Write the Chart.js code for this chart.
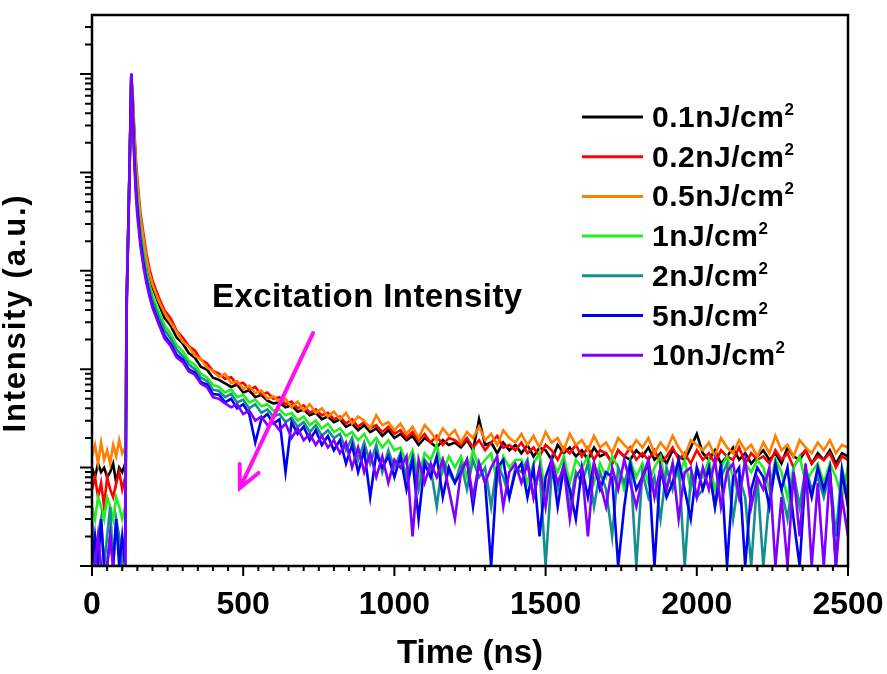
<!DOCTYPE html>
<html>
<head>
<meta charset="utf-8">
<script src="https://cdn.jsdelivr.net/npm/chart.js@4.4.1/dist/chart.umd.min.js"></script>
<style>
  html, body { margin: 0; padding: 0; background: #fff; }
</style>
</head>
<body>
<canvas id="myChart" width="887" height="674"></canvas>
<script>
// time axis (ns), shared by all curves
const times = [
  0, 10, 20, 30, 40, 50, 60, 70, 80, 90, 100,
  110, 115, 120, 125, 130, 135, 140, 145, 150, 160, 170, 180, 190, 200,
  220, 240, 260, 280, 300, 320, 340, 360, 380, 400,
  420, 440, 460, 480, 500, 520, 540, 560, 580, 600,
  620, 640, 660, 680, 700, 720, 740, 760, 780, 800,
  820, 840, 860, 880, 900, 920, 940, 960, 980, 1000,
  1020, 1040, 1060, 1080, 1100, 1120, 1140, 1160, 1180, 1200,
  1220, 1240, 1260, 1280, 1300, 1320, 1340, 1360, 1380, 1400,
  1420, 1440, 1460, 1480, 1500, 1520, 1540, 1560, 1580, 1600,
  1620, 1640, 1660, 1680, 1700, 1720, 1740, 1760, 1780, 1800,
  1820, 1840, 1860, 1880, 1900, 1920, 1940, 1960, 1980, 2000,
  2020, 2040, 2060, 2080, 2100, 2120, 2140, 2160, 2180, 2200,
  2220, 2240, 2260, 2280, 2300, 2320, 2340, 2360, 2380, 2400,
  2420, 2440, 2460, 2480, 2500
];

const labels = ['0.1nJ/cm²', '0.2nJ/cm²', '0.5nJ/cm²', '1nJ/cm²', '2nJ/cm²', '5nJ/cm²', '10nJ/cm²'];
const colors = ['#000000', '#ff0000', '#ff8000', '#22ee22', '#148f8f', '#0000f0', '#8000ff'];

const xTicks = [0, 500, 1000, 1500, 2000, 2500];

// counts (a.u.)
const int01 = [
  10, 8, 11, 9, 10, 8, 9, 11, 7, 10, 9,
  11, 610, 2850, 15500, 100000, 50000, 22000, 11500, 7000, 3300, 2000, 1250, 880, 680,
  470, 330, 278, 210, 182, 146, 131, 106, 99, 82,
  78, 72, 66, 70, 58, 61, 52, 55, 48, 45,
  46, 41, 43, 37, 39, 34, 36, 31, 33, 29,
  31, 26, 28, 24, 27, 23, 25, 21, 24, 20,
  22, 19, 21, 17, 20, 18, 16, 19, 17, 18,
  16, 19, 15, 31, 17, 18, 14, 18, 15, 17,
  14, 17, 13, 16, 15, 12, 17, 14, 16, 13,
  15, 12, 16, 13, 14, 11, 15, 13, 12, 15,
  13, 16, 12, 14, 11, 15, 13, 12, 16, 22,
  14, 12, 15, 11, 13, 16, 12, 14, 11, 13,
  15, 12, 14, 11, 16, 13, 12, 15, 11, 14,
  12, 15, 11, 14, 13
];
const int02 = [
  6, 8, 5, 7, 4, 8, 6, 5, 7, 9, 6,
  8, 600, 2800, 15000, 100000, 58000, 27000, 14000, 8500, 3900, 2400, 1500, 1050, 800,
  545, 395, 330, 245, 210, 172, 155, 125, 115, 96,
  90, 80, 83, 70, 73, 62, 66, 55, 58, 50,
  52, 44, 47, 40, 43, 36, 39, 34, 36, 31,
  33, 28, 31, 26, 29, 25, 27, 23, 26, 22,
  24, 20, 23, 19, 22, 18, 21, 17, 20, 19,
  17, 20, 16, 19, 15, 18, 21, 16, 17, 15,
  18, 14, 16, 13, 17, 15, 12, 16, 14, 17,
  13, 16, 12, 15, 14, 11, 15, 13, 16, 12,
  14, 12, 15, 11, 13, 16, 12, 14, 11, 15,
  12, 14, 11, 15, 13, 12, 16, 11, 14, 12,
  13, 11, 15, 12, 14, 10, 13, 15, 11, 13,
  12, 14, 10, 13, 12
];
const int05 = [
  13, 17, 11, 18, 12, 15, 11, 17, 13, 19, 14,
  16, 620, 2900, 16000, 98000, 52000, 24000, 12500, 7600, 3500, 2150, 1350, 950, 730,
  500, 372, 298, 240, 190, 170, 138, 126, 104, 95,
  84, 90, 72, 76, 63, 68, 57, 61, 50, 53,
  46, 50, 41, 47, 38, 44, 36, 40, 33, 37,
  31, 36, 28, 33, 30, 25, 34, 27, 29, 24,
  28, 22, 26, 20, 27, 23, 19, 25, 21, 24,
  18, 23, 20, 26, 19, 22, 17, 24, 20, 18,
  22, 17, 21, 16, 23, 18, 20, 15, 22, 17,
  19, 15, 21, 16, 18, 14, 20, 17, 15, 19,
  16, 20, 14, 18, 15, 21, 16, 13, 19, 17,
  15, 18, 13, 20, 16, 14, 19, 15, 17, 13,
  18, 14, 21, 15, 17, 13, 19, 16, 14, 18,
  15, 19, 14, 17, 16
];
const int1 = [
  4, 3, 5, 4, 3, 5, 4, 3, 5, 4, 3,
  4, 560, 2700, 14500, 100000, 45000, 18000, 9000, 5500, 2600, 1600, 1000, 720, 560,
  385, 280, 230, 175, 152, 122, 111, 90, 83, 69,
  66, 58, 62, 52, 55, 46, 49, 42, 44, 38,
  39, 34, 36, 30, 33, 27, 30, 25, 28, 23,
  25, 21, 23, 19, 22, 17, 20, 16, 19, 15,
  16, 11, 15, 8, 14, 12, 17, 9, 13, 10,
  13, 8, 15, 10, 12, 14, 7, 13, 10, 12,
  12, 7, 11, 14, 5, 12, 9, 13, 7, 12,
  10, 13, 7, 11, 8, 13, 10, 6, 12, 8,
  11, 7, 10, 13, 6, 11, 8, 12, 6, 10,
  8, 12, 6, 10, 13, 8, 5, 11, 9, 12,
  10, 6, 12, 9, 5, 10, 13, 7, 9, 11,
  7, 11, 8, 5, 10
];
const int2 = [
  3, 1, 2, 3, 1, 2, 4, 1, 3, 2, 1,
  2, 540, 2650, 14000, 100000, 42000, 16000, 8000, 4800, 2300, 1400, 900, 650, 500,
  345, 250, 205, 158, 136, 112, 100, 82, 76, 62,
  60, 52, 56, 46, 49, 40, 44, 36, 39, 33,
  35, 29, 32, 26, 29, 23, 27, 21, 24, 20,
  22, 15, 20, 12, 18, 11, 17, 9, 15, 10,
  14, 8, 13, 6, 12, 10, 4, 12, 9, 7,
  11, 6, 12, 8, 10, 4, 11, 8, 5, 10,
  9, 12, 5, 10, 1, 9, 6, 11, 4, 9,
  7, 11, 4, 9, 6, 2, 10, 7, 11, 1,
  9, 5, 8, 3, 10, 6, 11, 1, 8, 5,
  6, 10, 4, 8, 11, 3, 8, 5, 1, 8,
  1, 5, 10, 6, 3, 9, 4, 10, 6, 8,
  5, 9, 2, 10, 5
];
const int5 = [
  1, 2, 1, 3, 1, 1, 2, 1, 3, 1, 2,
  1, 520, 2600, 14000, 100000, 38000, 14000, 7000, 4200, 2000, 1200, 800, 580, 440,
  305, 220, 182, 140, 125, 100, 92, 74, 70, 56,
  55, 46, 50, 40, 44, 35, 18, 31, 35, 28,
  31, 9, 29, 22, 26, 19, 24, 17, 21, 15,
  19, 11, 17, 9, 15, 5, 14, 10, 13, 8,
  13, 6, 12, 3, 11, 8, 13, 5, 10, 7,
  9, 12, 4, 11, 7, 1, 10, 12, 5, 9,
  11, 5, 10, 2, 8, 12, 4, 10, 6, 3,
  10, 5, 11, 6, 9, 8, 1, 4, 11, 6,
  8, 11, 1, 10, 5, 7, 12, 6, 3, 10,
  6, 10, 4, 11, 1, 8, 10, 1, 6, 10,
  8, 4, 11, 6, 10, 3, 1, 9, 5, 10,
  6, 10, 1, 9, 4
];
const int10 = [
  1, 1, 2, 1, 1, 1, 2, 1, 1, 1, 1,
  1, 500, 2600, 14000, 102000, 35000, 12000, 6000, 3600, 1800, 1100, 750, 550, 420,
  290, 205, 172, 132, 118, 95, 88, 71, 66, 52,
  50, 45, 41, 44, 35, 38, 30, 33, 27, 29,
  24, 28, 20, 25, 19, 22, 17, 21, 16, 19,
  14, 18, 10, 16, 9, 14, 8, 13, 7, 12,
  10, 13, 2, 12, 7, 11, 8, 12, 6, 3,
  9, 12, 5, 11, 7, 10, 13, 4, 9, 11,
  7, 11, 5, 10, 4, 12, 7, 10, 3, 8,
  10, 2, 11, 7, 4, 10, 6, 12, 7, 4,
  8, 12, 5, 10, 6, 11, 3, 9, 10, 5,
  10, 6, 12, 4, 9, 11, 5, 12, 4, 8,
  6, 10, 1, 5, 1, 9, 2, 11, 1, 7,
  1, 9, 1, 5, 2
];

const series = [int01, int02, int05, int1, int2, int5, int10];
const font = 'Arial, "Liberation Sans", sans-serif';

// arrow of the "Excitation Intensity" note, in data units
const arrowFrom = { x: 731, y: 233 };
const arrowTo = { x: 489, y: 6.2 };

const axesPlugin = {
  id: 'axesPlugin',
  afterDraw(chart) {
    const { ctx, chartArea: a, scales: { x, y } } = chart;
    ctx.save();
    ctx.strokeStyle = '#000';
    ctx.lineWidth = 2;
    ctx.beginPath();
    for (let t = x.min; t <= x.max; t += 50) {
      const px = x.getPixelForValue(t);
      const len = xTicks.includes(t) ? 10 : 5;
      ctx.moveTo(px, a.bottom);
      ctx.lineTo(px, a.bottom + len);
    }
    for (let d = 0; d <= 6; d++) {
      for (let m = 1; m <= 9; m++) {
        const v = m * Math.pow(10, d);
        if (v > y.max) break;
        const py = y.getPixelForValue(v);
        const len = m === 1 ? 12 : 7;
        ctx.moveTo(a.left - len, py);
        ctx.lineTo(a.left, py);
      }
    }
    ctx.stroke();
    ctx.lineWidth = 2.5;
    ctx.strokeRect(a.left, a.top, a.right - a.left, a.bottom - a.top);

    // y title (letter-spaced like the original)
    ctx.translate(16, 313);
    ctx.rotate(-Math.PI / 2);
    ctx.fillStyle = '#000';
    ctx.font = 'bold 31px ' + font;
    ctx.letterSpacing = '1.8px';
    ctx.textAlign = 'center';
    ctx.textBaseline = 'middle';
    ctx.fillText('Intensity (a.u.)', 0, 0);
    ctx.restore();
  }
};

const legendPlugin = {
  id: 'legendPlugin',
  afterDraw(chart) {
    const ctx = chart.ctx;
    ctx.save();
    chart.data.datasets.forEach((ds, i) => {
      const ly = 117 + i * 39.7;
      ctx.strokeStyle = ds.borderColor;
      ctx.lineWidth = 3;
      ctx.beginPath();
      ctx.moveTo(582, ly);
      ctx.lineTo(643, ly);
      ctx.stroke();
      const base = ds.label.replace('²', '');
      ctx.fillStyle = '#000';
      ctx.textBaseline = 'alphabetic';
      ctx.letterSpacing = '0.5px';
      ctx.font = 'bold 30px ' + font;
      ctx.fillText(base, 652, ly + 10);
      const w = ctx.measureText(base).width;
      ctx.font = 'bold 17px ' + font;
      ctx.fillText('2', 652 + w, ly - 2);
    });
    ctx.restore();
  }
};

const notePlugin = {
  id: 'notePlugin',
  afterDraw(chart) {
    const { ctx, scales: { x, y } } = chart;
    ctx.save();
    ctx.fillStyle = '#000';
    ctx.font = 'bold 33px ' + font;
    ctx.letterSpacing = '0.4px';
    ctx.textBaseline = 'alphabetic';
    ctx.fillText('Excitation Intensity', 212, 307);

    const x0 = x.getPixelForValue(arrowFrom.x), y0 = y.getPixelForValue(arrowFrom.y);
    const x1 = x.getPixelForValue(arrowTo.x), y1 = y.getPixelForValue(arrowTo.y);
    const ang = Math.atan2(y0 - y1, x0 - x1);
    ctx.strokeStyle = '#ff10f0';
    ctx.lineWidth = 4;
    ctx.lineCap = 'round';
    ctx.beginPath();
    ctx.moveTo(x0, y0);
    ctx.lineTo(x1, y1);
    const head = 24, spread = 0.45;
    ctx.moveTo(x1 + head * Math.cos(ang - spread), y1 + head * Math.sin(ang - spread));
    ctx.lineTo(x1, y1);
    ctx.lineTo(x1 + head * Math.cos(ang + spread), y1 + head * Math.sin(ang + spread));
    ctx.stroke();
    ctx.restore();
  }
};

const datasets = series.map((vals, i) => ({
  label: labels[i],
  data: times.map((t, k) => ({ x: t, y: vals[k] })),
  borderColor: colors[i],
  backgroundColor: colors[i],
  borderWidth: 2.6,
  pointRadius: 0,
  tension: 0,
  order: series.length - i
}));

const myChart = new Chart(document.getElementById('myChart'), {
  type: 'line',
  data: { datasets: datasets },
  options: {
    responsive: false,
    animation: false,
    devicePixelRatio: 1,
    layout: { padding: { top: 15, right: 39, left: 0, bottom: 0 } },
    plugins: { legend: { display: false }, tooltip: { enabled: false } },
    scales: {
      x: {
        type: 'linear',
        min: 0,
        max: 2500,
        afterBuildTicks: s => { s.ticks = xTicks.map(v => ({ value: v })); },
        afterFit: s => { s.height = 108; s.paddingLeft = 0; s.paddingRight = 0; },
        grid: { display: false, drawTicks: false },
        border: { display: false },
        ticks: { color: '#000', padding: 20, maxRotation: 0, callback: v => String(v), font: { family: font, size: 32, weight: 'bold' } },
        title: { display: true, text: 'Time (ns)', color: '#000', padding: 0, font: { family: font, size: 33, weight: 'bold' } }
      },
      y: {
        type: 'logarithmic',
        min: 1,
        max: 398107,
        afterFit: s => { s.width = 92; s.paddingTop = 0; s.paddingBottom = 0; },
        grid: { display: false, drawTicks: false },
        border: { display: false },
        ticks: { display: false },
        title: { display: false }
      }
    }
  },
  plugins: [axesPlugin, legendPlugin, notePlugin]
});
</script>
</body>
</html>
